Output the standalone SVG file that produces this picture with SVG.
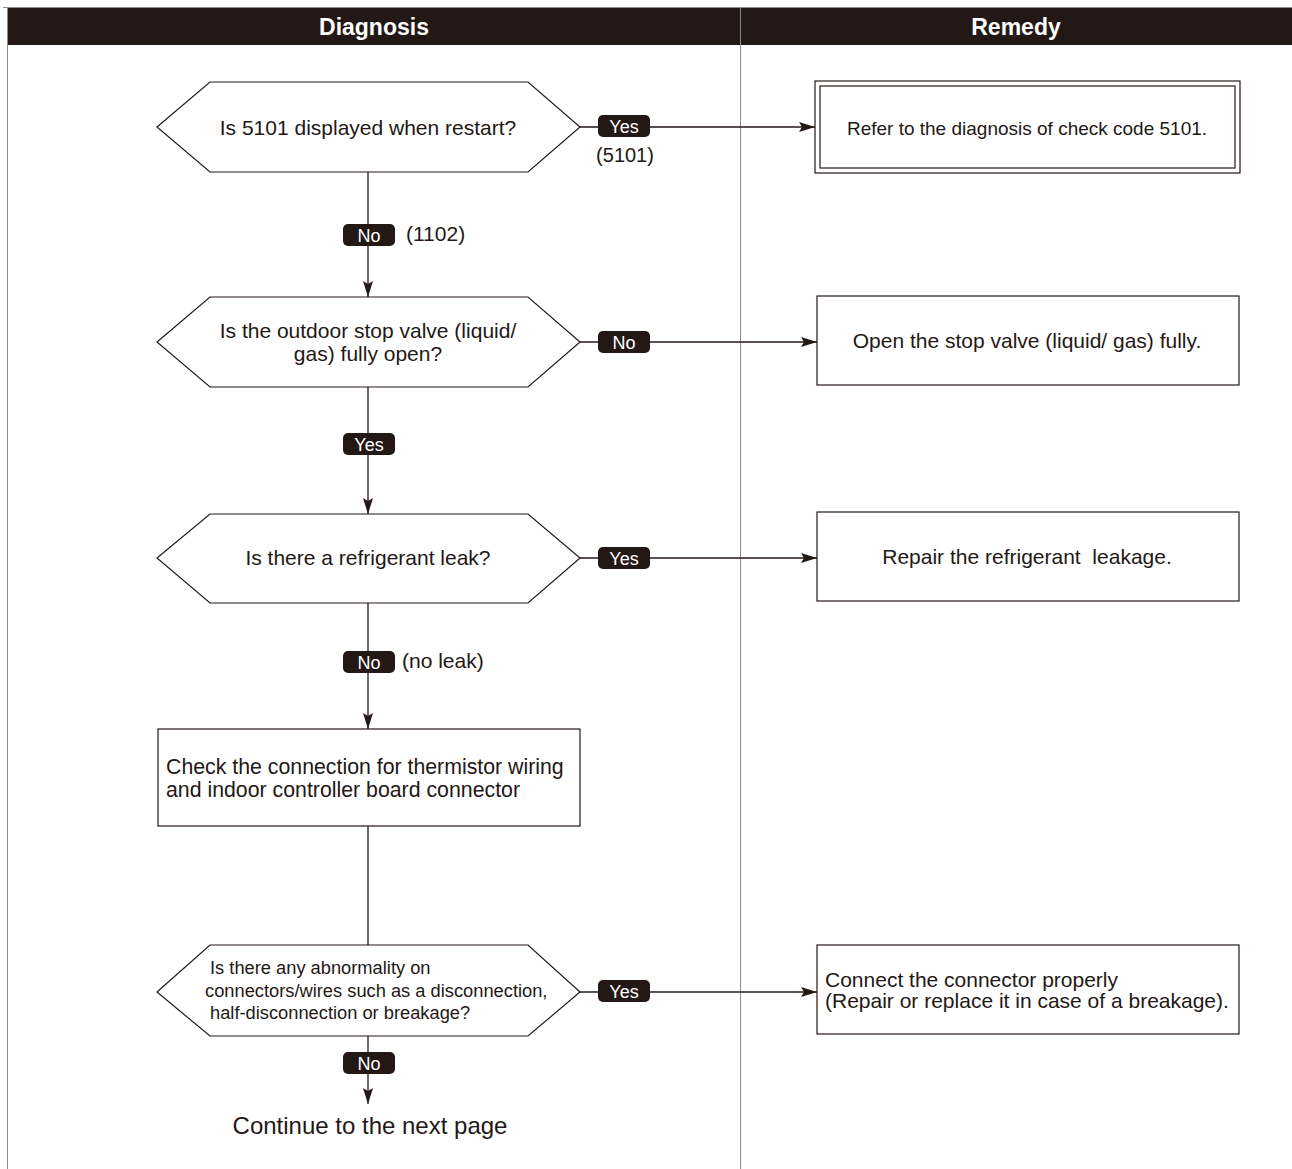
<svg xmlns="http://www.w3.org/2000/svg" width="1292" height="1169" viewBox="0 0 1292 1169">
<defs>
<style>
.t{font-family:"Liberation Sans",Arial,sans-serif;fill:#231815;}
.shape{fill:#fff;stroke:#231815;stroke-width:1.2;}
.conn{stroke:#231815;stroke-width:1.3;fill:none;}
.lbl rect{fill:#231815;}
.lbl text{font-family:"Liberation Sans",Arial,sans-serif;fill:#fff;font-size:18px;text-anchor:middle;}
.grid{stroke:#8c8c8c;stroke-width:1;fill:none;}
.hd{font-family:"Liberation Sans",Arial,sans-serif;font-weight:bold;font-size:23px;fill:#fff;text-anchor:middle;}
</style>
<marker id="ah" viewBox="0 0 16 10" refX="16" refY="5" markerWidth="16" markerHeight="10" markerUnits="userSpaceOnUse" orient="auto">
<path d="M0,0 L16,5 L0,10 L3,5 z" fill="#231815"/>
</marker>
</defs>
<rect width="1292" height="1169" fill="#fff"/>
<g id="frame">
<line class="grid" x1="3" y1="7.5" x2="1292" y2="7.5"/>
<rect x="7" y="8" width="1285" height="37" fill="#231815"/>
<line class="grid" x1="7.5" y1="8" x2="7.5" y2="1169"/>
<line class="grid" x1="740.5" y1="8" x2="740.5" y2="1169"/>
<text class="hd" x="374" y="35">Diagnosis</text>
<text class="hd" x="1016" y="35">Remedy</text>
</g>
<g id="connectors">
<line class="conn" x1="580" y1="127" x2="815" y2="127" marker-end="url(#ah)"/>
<line class="conn" x1="368" y1="172" x2="368" y2="297" marker-end="url(#ah)"/>
<line class="conn" x1="580" y1="342" x2="817" y2="342" marker-end="url(#ah)"/>
<line class="conn" x1="368" y1="387" x2="368" y2="514" marker-end="url(#ah)"/>
<line class="conn" x1="580" y1="558" x2="817" y2="558" marker-end="url(#ah)"/>
<line class="conn" x1="368" y1="603" x2="368" y2="729" marker-end="url(#ah)"/>
<line class="conn" x1="368" y1="826" x2="368" y2="945"/>
<line class="conn" x1="580" y1="992" x2="817" y2="992" marker-end="url(#ah)"/>
<line class="conn" x1="368" y1="1036" x2="368" y2="1104" marker-end="url(#ah)"/>
<g class="lbl"><rect x="598" y="115" width="52" height="22" rx="5"/><text x="624" y="132.5">Yes</text></g>
<text class="t" x="625" y="162" font-size="20" text-anchor="middle">(5101)</text>
<g class="lbl"><rect x="343" y="224" width="52" height="22" rx="5"/><text x="369" y="241.5">No</text></g>
<text class="t" x="406" y="241" font-size="21">(1102)</text>
<g class="lbl"><rect x="598" y="331" width="52" height="22" rx="5"/><text x="624" y="348.5">No</text></g>
<g class="lbl"><rect x="343" y="433" width="52" height="22" rx="5"/><text x="369" y="450.5">Yes</text></g>
<g class="lbl"><rect x="598" y="547" width="52" height="22" rx="5"/><text x="624" y="564.5">Yes</text></g>
<g class="lbl"><rect x="343" y="651" width="52" height="22" rx="5"/><text x="369" y="668.5">No</text></g>
<text class="t" x="402" y="668" font-size="21">(no leak)</text>
<g class="lbl"><rect x="598" y="980" width="52" height="22" rx="5"/><text x="624" y="997.5">Yes</text></g>
<g class="lbl"><rect x="343" y="1052" width="52" height="22" rx="5"/><text x="369" y="1069.5">No</text></g>
</g>
<g id="d1">
<polygon class="shape" points="157,127 210,82 528,82 580,127 528,172 210,172"/>
<text class="t" x="368" y="135" font-size="21" text-anchor="middle">Is 5101 displayed when restart?</text>
</g>
<g id="r1">
<rect class="shape" x="815" y="81" width="425" height="92"/>
<rect class="shape" x="820" y="86" width="415" height="82"/>
<text class="t" x="1027" y="135" font-size="19" text-anchor="middle">Refer to the diagnosis of check code 5101.</text>
</g>
<g id="d2">
<polygon class="shape" points="157,342 210,297 528,297 580,342 528,387 210,387"/>
<text class="t" x="368" y="338" font-size="21" text-anchor="middle">Is the outdoor stop valve (liquid/</text>
<text class="t" x="368" y="361" font-size="21" text-anchor="middle">gas) fully open?</text>
</g>
<g id="r2">
<rect class="shape" x="817" y="296" width="422" height="89"/>
<text class="t" x="1027" y="348" font-size="21" text-anchor="middle">Open the stop valve (liquid/ gas) fully.</text>
</g>
<g id="d3">
<polygon class="shape" points="157,558 210,514 528,514 580,558 528,603 210,603"/>
<text class="t" x="368" y="565" font-size="21" text-anchor="middle">Is there a refrigerant leak?</text>
</g>
<g id="r3">
<rect class="shape" x="817" y="512" width="422" height="89"/>
<text class="t" x="1027" y="564" font-size="21" text-anchor="middle" xml:space="preserve">Repair the refrigerant  leakage.</text>
</g>
<g id="p1">
<rect class="shape" x="158" y="729" width="422" height="97"/>
<text class="t" x="166" y="774" font-size="21.3">Check the connection for thermistor wiring</text>
<text class="t" x="166" y="797" font-size="21.3">and indoor controller board connector</text>
</g>
<g id="d4">
<polygon class="shape" points="157,992 210,945 528,945 580,992 528,1036 210,1036"/>
<text class="t" x="210" y="974" font-size="18.3">Is there any abnormality on</text>
<text class="t" x="205" y="997" font-size="18.3">connectors/wires such as a disconnection,</text>
<text class="t" x="210" y="1019" font-size="18.3">half-disconnection or breakage?</text>
</g>
<g id="r4">
<rect class="shape" x="817" y="945" width="422" height="89"/>
<text class="t" x="825" y="987" font-size="21">Connect the connector properly</text>
<text class="t" x="825" y="1008" font-size="21">(Repair or replace it in case of a breakage).</text>
</g>
<g id="end">
<text class="t" x="370" y="1134" font-size="24" text-anchor="middle">Continue to the next page</text>
</g>
</svg>
